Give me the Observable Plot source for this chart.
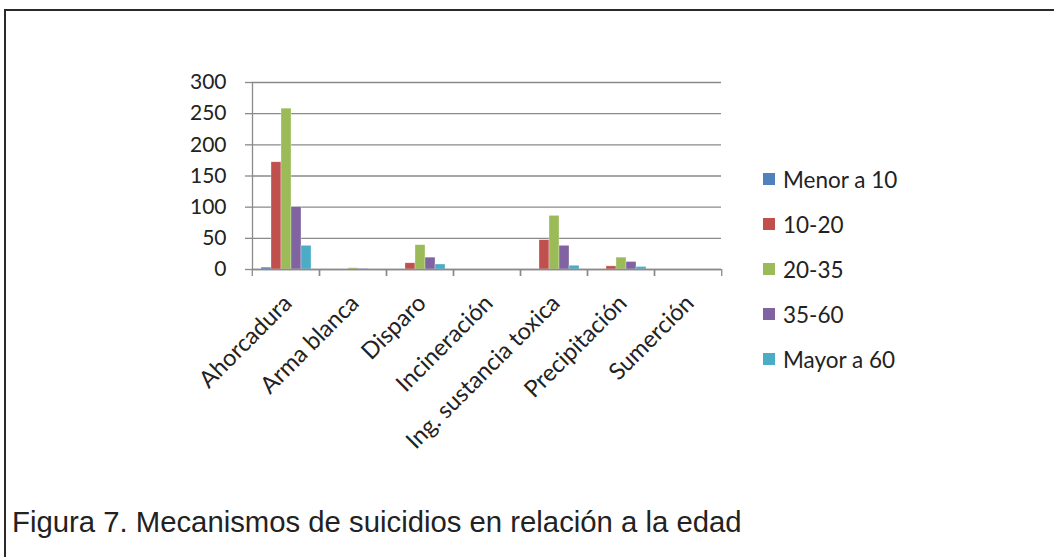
<!DOCTYPE html>
<html>
<head>
<meta charset="utf-8">
<script src="https://cdn.jsdelivr.net/npm/d3@7"></script>
<script src="https://cdn.jsdelivr.net/npm/@observablehq/plot@0.6"></script>
<style>
  html, body { margin: 0; padding: 0; background: #fff; }
  body { width: 1054px; height: 557px; overflow: hidden; position: relative; font-family: Lato, "Open Sans", sans-serif; }
  #box { position: absolute; left: 4px; top: 9px; width: 1100px; height: 600px; border-left: 2px solid #2a2a2a; border-top: 2px solid #2a2a2a; box-sizing: border-box; }
  #chart { position: absolute; left: 0; top: 0; }
  #legend { position: absolute; left: 763px; top: 168px; display: flex; flex-direction: column; gap: 23px; }
  .item { display: flex; align-items: center; height: 22px; font-size: 22.5px; color: #222; }
  .sw { width: 12px; height: 12px; margin-right: 8px; }
  #caption { position: absolute; left: 12px; top: 507px; font-family: "Liberation Sans", Arial, sans-serif; font-size: 29.3px; line-height: 29px; color: #222; white-space: nowrap; }
</style>
</head>
<body>
<div id="box"></div>
<div id="chart"></div>
<div id="legend"></div>
<div id="caption">Figura 7. Mecanismos de suicidios en relación a la edad</div>
<script>
// Suicide mechanisms by age group
const categories = ["Ahorcadura", "Arma blanca", "Disparo", "Incineración", "Ing. sustancia toxica", "Precipitación", "Sumerción"];
const series = ["Menor a 10", "10-20", "20-35", "35-60", "Mayor a 60"];
const colors = ["#4F81BD", "#C0504D", "#9BBB59", "#8064A2", "#4BACC6"];
const yTicks = [0, 50, 100, 150, 200, 250, 300];

// one array per mechanism, values in the order of `series`
const ahorcadura = [3, 172, 258, 100, 38];
const armaBlanca = [0, 0, 2, 1, 0];
const disparo = [0, 10, 39, 19, 8];
const incineracion = [0, 0, 0, 0, 0];
const sustanciaToxica = [0, 47, 86, 38, 6];
const precipitacion = [0, 5, 19, 12, 4];
const sumercion = [0, 0, 0, 0, 0];

const valuesByCategory = [ahorcadura, armaBlanca, disparo, incineracion, sustanciaToxica, precipitacion, sumercion];
const data = categories.flatMap((c, i) => series.map((s, j) => ({category: c, series: s, value: valuesByCategory[i][j]})));

const width = 760, height = 470;
const marginLeft = 250, marginRight = 38, marginTop = 82, marginBottom = 201;
const step = (width - marginLeft - marginRight) / categories.length;
const gridColor = "#8a8a8a";

const chart = Plot.plot({
  width, height, marginLeft, marginRight, marginTop, marginBottom,
  style: {fontFamily: "Lato, 'Open Sans', sans-serif", background: "transparent", color: "#222"},
  fx: {domain: categories, padding: 0, axis: null, label: null},
  x: {domain: series, paddingInner: 0, paddingOuter: 0.77, axis: null, label: null},
  y: {domain: [0, 300], axis: null, label: null},
  color: {domain: series, range: colors},
  marks: [
    Plot.gridY(yTicks, {stroke: gridColor, strokeOpacity: 1, strokeWidth: 1.3}),
    Plot.frame({anchor: "left", facet: "super", stroke: gridColor, strokeWidth: 1.3}),
    Plot.axisY(yTicks, {anchor: "left", tickSize: 7, tickPadding: 19, stroke: gridColor, strokeWidth: 1.3, fontSize: 21, fill: "#222", label: null}),
    Plot.barY(data, {fx: "category", x: "series", y: "value", fill: "series", stroke: "#fff", strokeOpacity: 0.5, strokeWidth: 0.6}),
    Plot.ruleY([0], {stroke: gridColor, strokeWidth: 1.3}),
    Plot.axisFx({anchor: "bottom", tickSize: 7, tickFormat: () => "", dx: -step / 2, stroke: gridColor, strokeWidth: 1.3, label: null}),
    Plot.axisFx({anchor: "bottom", tickSize: 7, tickFormat: () => "", dx: step / 2, stroke: gridColor, strokeWidth: 1.3, label: null}),
    Plot.axisFx({anchor: "bottom", tickSize: 0, tickRotate: -45, textAnchor: "end", dx: 2, dy: 18, fontSize: 23.5, fill: "#222", label: null})
  ]
});
document.getElementById("chart").appendChild(chart);

// legend: one swatch per age group
const legend = document.getElementById("legend");
series.forEach((s, i) => {
  const item = document.createElement("div");
  item.className = "item";
  const sw = document.createElement("span");
  sw.className = "sw";
  sw.style.background = colors[i];
  const label = document.createElement("span");
  label.textContent = s;
  item.append(sw, label);
  legend.appendChild(item);
});
</script>
</body>
</html>
